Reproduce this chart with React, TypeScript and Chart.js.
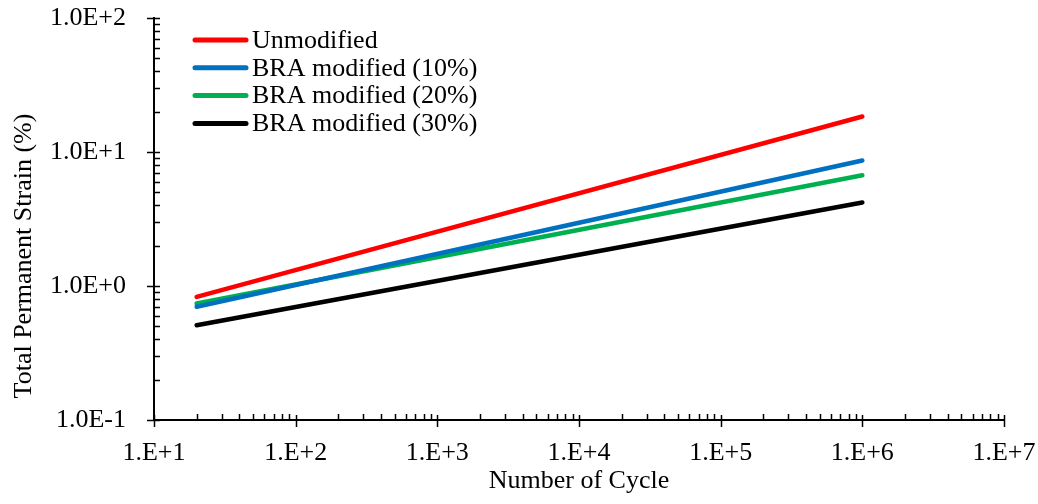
import React, { useEffect, useRef } from 'react';
import { Chart, registerables } from 'chart.js';

Chart.register(...registerables);

// ---- data ----
const seriesNames = ['Unmodified', 'BRA modified (10%)', 'BRA modified (20%)', 'BRA modified (30%)'];
const cycles = [20, 1000000];
const unmodified = [0.83, 18.4];
const bra10 = [0.70, 8.65];
const bra20 = [0.74, 6.7];
const bra30 = [0.51, 4.2];
const seriesColors = ['#FF0000', '#0070C0', '#00B050', '#000000'];
const xExponents = [1, 2, 3, 4, 5, 6, 7];
const yExponents = [-1, 0, 1, 2];
const xTitle = 'Number of Cycle';
const yTitle = 'Total Permanent Strain (%)';

const FONT = "'Liberation Serif', 'Times New Roman', serif";

const fmtX = (v: number) => '1.E+' + Math.round(Math.log10(v));
const fmtY = (v: number) => {
  const e = Math.round(Math.log10(v));
  return '1.0E' + (e >= 0 ? '+' : '-') + Math.abs(e);
};

const excelPlugin = {
  id: 'excelDecor',
  afterDraw(chart: any) {
    const ctx = chart.ctx as CanvasRenderingContext2D;
    const xs = chart.scales.x;
    const ys = chart.scales.y;
    const area = chart.chartArea;
    const xMin = 10 ** xExponents[0];
    const xMax = 10 ** xExponents[xExponents.length - 1];
    const yMin = 10 ** yExponents[0];
    const yMax = 10 ** yExponents[yExponents.length - 1];
    ctx.save();
    ctx.strokeStyle = '#000';
    ctx.lineWidth = 1.5;
    ctx.beginPath();
    // x ticks
    for (const e of xExponents) {
      for (let m = 1; m <= 9; m++) {
        const v = m * 10 ** e;
        if (v > xMax * 1.0001 || v < xMin * 0.9999) continue;
        const px = Math.round(xs.getPixelForValue(v)) + 0.5;
        if (m === 1) {
          ctx.moveTo(px, area.bottom - 5);
          ctx.lineTo(px, area.bottom + 7);
        } else {
          ctx.moveTo(px, area.bottom);
          ctx.lineTo(px, area.bottom - 6);
        }
      }
    }
    // y ticks
    for (const e of yExponents) {
      for (let m = 1; m <= 9; m++) {
        const v = m * 10 ** e;
        if (v > yMax * 1.0001 || v < yMin * 0.9999) continue;
        const py = Math.round(ys.getPixelForValue(v)) + 0.5;
        if (m === 1) {
          ctx.moveTo(area.left - 7, py);
          ctx.lineTo(area.left + 6, py);
        } else {
          ctx.moveTo(area.left, py);
          ctx.lineTo(area.left + 6, py);
        }
      }
    }
    ctx.stroke();

    // legend
    const lx0 = 193, lx1 = 248, ly0 = 40, dy = 27.8;
    ctx.font = `26px ${FONT}`;
    ctx.textBaseline = 'middle';
    ctx.textAlign = 'left';
    chart.data.datasets.forEach((ds: any, i: number) => {
      const y = ly0 + i * dy;
      ctx.beginPath();
      ctx.strokeStyle = ds.borderColor;
      ctx.lineWidth = 5;
      ctx.lineCap = 'round';
      ctx.moveTo(lx0 + 2, y);
      ctx.lineTo(lx1 - 2, y);
      ctx.stroke();
      ctx.fillStyle = '#000';
      ctx.fillText(ds.label, 252, y + 1);
    });

    // y title
    ctx.save();
    ctx.translate(24, 256);
    ctx.rotate(-Math.PI / 2);
    ctx.textAlign = 'center';
    ctx.textBaseline = 'middle';
    ctx.font = `26px ${FONT}`;
    ctx.fillStyle = '#000';
    ctx.fillText(yTitle, 0, 0);
    ctx.restore();

    ctx.restore();
  },
};

export default function App() {
  const ref = useRef<HTMLCanvasElement | null>(null);

  useEffect(() => {
    document.body.style.margin = '0';
    const values = [unmodified, bra10, bra20, bra30];
    const chart = new Chart(ref.current as HTMLCanvasElement, {
      type: 'line',
      data: {
        datasets: values.map((arr, i) => ({
          label: seriesNames[i],
          data: cycles.map((c, j) => ({ x: c, y: arr[j] })),
          borderColor: seriesColors[i],
          backgroundColor: seriesColors[i],
          borderWidth: 4.5,
          borderCapStyle: 'round' as const,
          pointRadius: 0,
          fill: false,
          tension: 0,
        })),
      },
      options: {
        animation: false,
        responsive: true,
        maintainAspectRatio: false,
        layout: { padding: { left: 0, top: 18, right: 34, bottom: 0 } },
        plugins: { legend: { display: false }, tooltip: { enabled: false } },
        scales: {
          x: {
            type: 'logarithmic',
            min: 10 ** xExponents[0],
            max: 10 ** xExponents[xExponents.length - 1],
            afterBuildTicks: (s: any) => {
              s.ticks = xExponents.map((e) => ({ value: 10 ** e, major: true }));
            },
            afterFit: (s: any) => {
              s.height = 84;
              s.paddingLeft = 0;
              s.paddingRight = 0;
            },
            ticks: {
              autoSkip: false,
              maxRotation: 0,
              minRotation: 0,
              padding: 10,
              color: '#000',
              font: { family: FONT, size: 26 },
              callback: (v: any) => fmtX(Number(v)),
            },
            grid: { display: false },
            border: { display: true, color: '#000', width: 2 },
            title: {
              display: true,
              text: xTitle,
              color: '#000',
              font: { family: FONT, size: 26 },
              padding: { top: 0, bottom: 7 },
            },
          },
          y: {
            type: 'logarithmic',
            min: 10 ** yExponents[0],
            max: 10 ** yExponents[yExponents.length - 1],
            afterBuildTicks: (s: any) => {
              s.ticks = yExponents.map((e) => ({ value: 10 ** e, major: true }));
            },
            afterFit: (s: any) => {
              s.width = 154;
              s.paddingTop = 0;
              s.paddingBottom = 0;
            },
            ticks: {
              autoSkip: false,
              padding: 20,
              color: '#000',
              font: { family: FONT, size: 26 },
              callback: (v: any) => fmtY(Number(v)),
            },
            grid: { display: false },
            border: { display: true, color: '#000', width: 2 },
          },
        },
      },
      plugins: [excelPlugin],
    } as any);
    return () => chart.destroy();
  }, []);

  return (
    <div style={{ position: 'relative', width: 1038, height: 504 }}>
      <canvas ref={ref} />
    </div>
  );
}
